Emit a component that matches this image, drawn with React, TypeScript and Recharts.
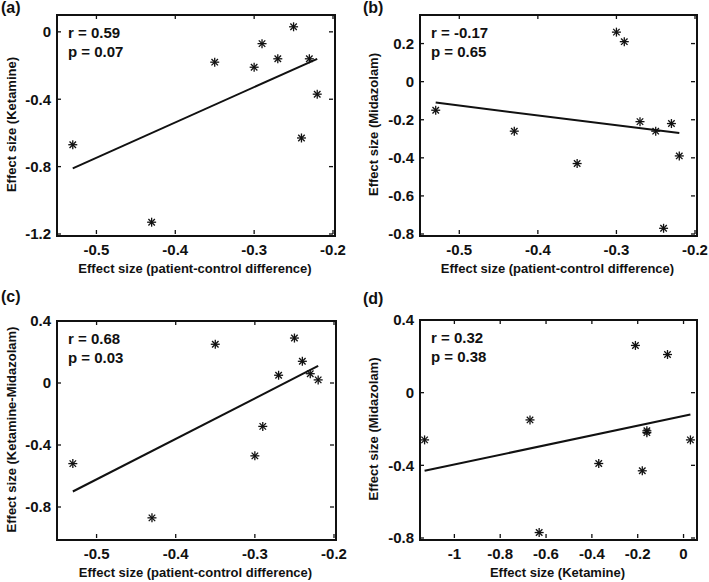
import React from "react"
import { ScatterChart, Scatter, XAxis, YAxis, ReferenceLine } from "recharts"

const FONT = "'Liberation Sans', Arial, Helvetica, sans-serif"

// effect sizes, one entry per region
const pcDiff = [-0.53, -0.43, -0.35, -0.3, -0.29, -0.27, -0.25, -0.24, -0.23, -0.22]
const ketamine = [-0.67, -1.13, -0.18, -0.21, -0.07, -0.16, 0.03, -0.63, -0.16, -0.37]
const midazolam = [-0.15, -0.26, -0.43, 0.26, 0.21, -0.21, -0.26, -0.77, -0.22, -0.39]
const ketMinusMid = [-0.52, -0.87, 0.25, -0.47, -0.28, 0.05, 0.29, 0.14, 0.06, 0.02]

// regression line end points
const fitA = { x: [-0.53, -0.22], y: [-0.81, -0.16] }
const fitB = { x: [-0.53, -0.22], y: [-0.11, -0.27] }
const fitC = { x: [-0.53, -0.22], y: [-0.7, 0.11] }
const fitD = { x: [-1.13, 0.03], y: [-0.43, -0.12] }

const diffTicks = [-0.5, -0.4, -0.3, -0.2]
const ketTicks = [-1, -0.8, -0.6, -0.4, -0.2, 0]
const ticksA = [-1.2, -0.8, -0.4, 0]
const ticksB = [-0.8, -0.6, -0.4, -0.2, 0, 0.2]
const ticksCD = [-0.8, -0.4, 0, 0.4]

const zip = (xs: number[], ys: number[]) => xs.map((x, i) => ({ x, y: ys[i] }))

function Asterisk({ cx, cy }: { cx?: number; cy?: number }) {
  if (cx == null || cy == null) return null
  const r = 4.5
  const d = r * 0.72
  return (
    <g stroke="#111" strokeWidth={1.3}>
      <line x1={cx - r} x2={cx + r} y1={cy} y2={cy} />
      <line x1={cx} x2={cx} y1={cy - r} y2={cy + r} />
      <line x1={cx - d} x2={cx + d} y1={cy - d} y2={cy + d} />
      <line x1={cx - d} x2={cx + d} y1={cy + d} y2={cy - d} />
    </g>
  )
}

type Plot = { x0: number; y0: number; x1: number; y1: number }

type PanelProps = {
  left: number
  top: number
  width: number
  height: number
  plot: Plot
  xDomain: [number, number]
  yDomain: [number, number]
  xTicks: number[]
  yTicks: number[]
  points: { x: number; y: number }[]
  fit: { x: number[]; y: number[] }
}

const XAXIS_H = 20
const BOX_W = 2
const TICK_W = 1.3
const TICK_L = 4

function Panel({ left, top, width, height, plot, xDomain, yDomain, xTicks, yTicks, points, fit }: PanelProps) {
  const pl = plot.x0 - left
  const pr = plot.x1 - left
  const pt = plot.y0 - top
  const pb = plot.y1 - top

  // tick label + inward tick marks (drawn as filled bars) on both opposite sides
  const xTick = (p: any) => (
    <g>
      <rect x={p.x - TICK_W / 2} y={pb - TICK_L} width={TICK_W} height={TICK_L} fill="#111" />
      <rect x={p.x - TICK_W / 2} y={pt} width={TICK_W} height={TICK_L} fill="#111" />
      <text x={p.x} y={pb + 10} dy="0.75em" textAnchor="middle" fontSize={15} fontWeight="bold" fill="#111" fontFamily={FONT}>
        {String(p.payload.value)}
      </text>
    </g>
  )
  const yTick = (p: any) => (
    <g>
      <rect x={pl} y={p.y - TICK_W / 2} width={TICK_L} height={TICK_W} fill="#111" />
      <rect x={pr - TICK_L} y={p.y - TICK_W / 2} width={TICK_L} height={TICK_W} fill="#111" />
      <text x={pl - 6} y={p.y} dy="0.36em" textAnchor="end" fontSize={15} fontWeight="bold" fill="#111" fontFamily={FONT}>
        {String(p.payload.value)}
      </text>
    </g>
  )

  return (
    <div style={{ position: "absolute", left, top, width, height }}>
      <ScatterChart
        width={width}
        height={height}
        margin={{ top: pt, right: width - pr, bottom: height - pb - XAXIS_H, left: 0 }}
      >
        <XAxis
          type="number"
          dataKey="x"
          domain={xDomain}
          ticks={xTicks}
          interval={0}
          allowDataOverflow
          axisLine={false}
          tickLine={false}
          height={XAXIS_H}
          tick={xTick}
        />
        <YAxis
          type="number"
          dataKey="y"
          domain={yDomain}
          ticks={yTicks}
          interval={0}
          allowDataOverflow
          axisLine={false}
          tickLine={false}
          width={pl}
          tick={yTick}
        />
        <ReferenceLine
          segment={[
            { x: fit.x[0], y: fit.y[0] },
            { x: fit.x[1], y: fit.y[1] },
          ]}
          stroke="#111"
          strokeWidth={2}
          ifOverflow="visible"
        />
        <Scatter data={points} shape={<Asterisk />} isAnimationActive={false} />
      </ScatterChart>
      {/* axes box */}
      <div
        style={{
          position: "absolute",
          left: pl - BOX_W / 2,
          top: pt - BOX_W / 2,
          width: pr - pl,
          height: pb - pt,
          border: `${BOX_W}px solid #111`,
          boxSizing: "content-box",
          pointerEvents: "none",
        }}
      />
    </div>
  )
}

const panels: (PanelProps & {
  letter: string
  r: string
  p: string
  xTitle: string
  yTitle: string
  letterPos: [number, number]
  yTitleX: number
})[] = [
  {
    left: 0, top: 0, width: 354, height: 291,
    plot: { x0: 57, y0: 15, x1: 333, y1: 234 },
    xDomain: [-0.55, -0.2], yDomain: [-1.2, 0.1],
    xTicks: diffTicks, yTicks: ticksA,
    points: zip(pcDiff, ketamine), fit: fitA,
    letter: "(a)", r: "r = 0.59", p: "p = 0.07",
    xTitle: "Effect size (patient-control difference)", yTitle: "Effect size (Ketamine)",
    letterPos: [1, 13], yTitleX: 16,
  },
  {
    left: 354, top: 0, width: 354, height: 291,
    plot: { x0: 420, y0: 15, x1: 695, y1: 234 },
    xDomain: [-0.55, -0.2], yDomain: [-0.8, 0.35],
    xTicks: diffTicks, yTicks: ticksB,
    points: zip(pcDiff, midazolam), fit: fitB,
    letter: "(b)", r: "r = -0.17", p: "p = 0.65",
    xTitle: "Effect size (patient-control difference)", yTitle: "Effect size (Midazolam)",
    letterPos: [363, 13], yTitleX: 378,
  },
  {
    left: 0, top: 291, width: 354, height: 291,
    plot: { x0: 57, y0: 321, x1: 334, y1: 538 },
    xDomain: [-0.55, -0.2], yDomain: [-1, 0.4],
    xTicks: diffTicks, yTicks: ticksCD,
    points: zip(pcDiff, ketMinusMid), fit: fitC,
    letter: "(c)", r: "r = 0.68", p: "p = 0.03",
    xTitle: "Effect size (patient-control difference)", yTitle: "Effect size (Ketamine-Midazolam)",
    letterPos: [1, 302], yTitleX: 16,
  },
  {
    left: 354, top: 291, width: 354, height: 291,
    plot: { x0: 420, y0: 320, x1: 695, y1: 538 },
    xDomain: [-1.15, 0.05], yDomain: [-0.8, 0.4],
    xTicks: ketTicks, yTicks: ticksCD,
    points: zip(ketamine, midazolam), fit: fitD,
    letter: "(d)", r: "r = 0.32", p: "p = 0.38",
    xTitle: "Effect size (Ketamine)", yTitle: "Effect size (Midazolam)",
    letterPos: [363, 304], yTitleX: 378,
  },
]

export default function App() {
  return (
    <div style={{ position: "absolute", left: 0, top: 0, width: 709, height: 582, background: "#fff", fontFamily: FONT }}>
      {panels.map((pp) => (
        <Panel key={pp.letter} {...pp} />
      ))}
      <svg width={709} height={582} style={{ position: "absolute", left: 0, top: 0, pointerEvents: "none" }}>
        {panels.map((pp) => {
          const cy = (pp.plot.y0 + pp.plot.y1) / 2
          const cx = (pp.plot.x0 + pp.plot.x1) / 2
          return (
            <g key={pp.letter} fontFamily={FONT} fontWeight="bold" fill="#111">
              <text x={pp.letterPos[0]} y={pp.letterPos[1]} fontSize={16}>{pp.letter}</text>
              <text x={pp.plot.x0 + 11} y={pp.plot.y0 + 23} fontSize={15}>{pp.r}</text>
              <text x={pp.plot.x0 + 11} y={pp.plot.y0 + 42} fontSize={15}>{pp.p}</text>
              <text x={cx} y={pp.plot.y1 + 39} fontSize={13} textAnchor="middle">{pp.xTitle}</text>
              <text
                x={pp.yTitleX}
                y={cy}
                fontSize={13}
                textAnchor="middle"
                transform={`rotate(-90 ${pp.yTitleX} ${cy})`}
              >
                {pp.yTitle}
              </text>
            </g>
          )
        })}
      </svg>
    </div>
  )
}
